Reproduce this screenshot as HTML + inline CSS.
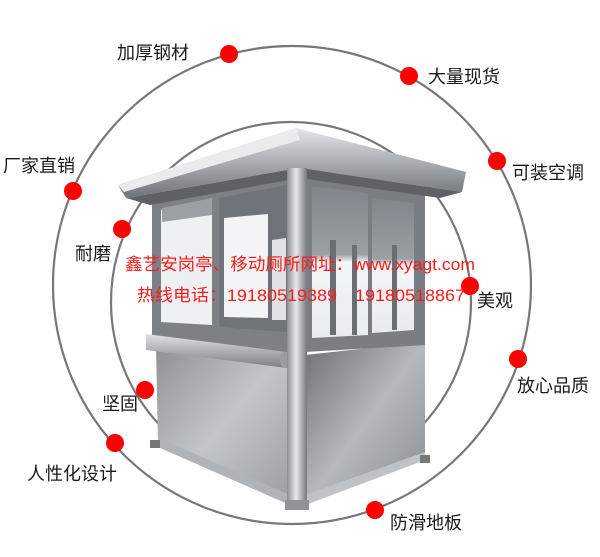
<!DOCTYPE html>
<html><head><meta charset="utf-8"><style>
html,body{margin:0;padding:0;background:#fff;}
svg{display:block;}
.l{font-family:"Liberation Sans","Noto Sans CJK SC",sans-serif;font-size:18px;fill:#1a1a1a;}
.r{font-family:"Liberation Sans","Noto Sans CJK SC",sans-serif;font-size:17px;fill:#ff1a1a;}
</style></head><body>
<svg width="600" height="557" viewBox="0 0 600 557" xmlns="http://www.w3.org/2000/svg">
<defs>
<linearGradient id="roof" x1="0" y1="0" x2="0" y2="1"><stop offset="0" stop-color="#e4e6e8"/><stop offset="0.5" stop-color="#a9adb1"/><stop offset="1" stop-color="#6f7377"/></linearGradient>
<linearGradient id="lp" x1="0" y1="0" x2="1" y2="1"><stop offset="0" stop-color="#8d9195"/><stop offset="0.5" stop-color="#c3c6c9"/><stop offset="1" stop-color="#9a9ea2"/></linearGradient>
<linearGradient id="rp" x1="0" y1="0" x2="1" y2="1"><stop offset="0" stop-color="#6d7175"/><stop offset="0.5" stop-color="#b5b9bc"/><stop offset="1" stop-color="#888c90"/></linearGradient>
<linearGradient id="post" x1="0" y1="0" x2="1" y2="0"><stop offset="0" stop-color="#8a8e92"/><stop offset="0.45" stop-color="#e8eaec"/><stop offset="1" stop-color="#74787c"/></linearGradient>
<linearGradient id="ledge" x1="0" y1="0" x2="0" y2="1"><stop offset="0" stop-color="#e0e2e4"/><stop offset="1" stop-color="#7a7e82"/></linearGradient>
<linearGradient id="gl" x1="0" y1="0" x2="0" y2="1"><stop offset="0" stop-color="#7f858a"/><stop offset="0.45" stop-color="#9aa0a4"/><stop offset="0.5" stop-color="#f4f6f7"/><stop offset="1" stop-color="#e8ecee"/></linearGradient>
</defs>
<!-- circles -->
<circle cx="292" cy="285" r="239" fill="none" stroke="#777" stroke-width="2.2"/>
<circle cx="291" cy="302" r="180" fill="none" stroke="#777" stroke-width="2.2"/>

<!-- booth -->
<!-- left lower panel -->
<polygon points="156,345 290,368 290,505 158,447" fill="url(#lp)"/>
<polygon points="158,438 290,495 290,505 158,447" fill="#b0b4b7"/>
<!-- right lower panel -->
<polygon points="305,355 425,342 425,460 305,505" fill="url(#rp)"/>
<polygon points="305,495 425,452 425,460 305,505" fill="#c0c3c6"/>
<!-- left upper frame & glass -->
<polygon points="152,198 290,168 290,360 152,338" fill="#7d8186"/>
<polygon points="161,210 212,200 212,325 161,322" fill="#eef1f2"/>
<polygon points="162,208 212,198 212,215 162,222" fill="#9ba0a4"/>
<polygon points="219,198 287,185 287,332 219,327" fill="#6e747a"/>
<polygon points="224,218 268,214 268,318 224,317" fill="#f2f4f5"/>
<polygon points="272,240 286,238 286,320 272,320" fill="#dfe3e5"/>
<!-- right upper frame & glass -->
<polygon points="305,168 425,190 425,345 305,352" fill="#7a7e83"/>
<polygon points="312,186 368,193 368,335 312,338" fill="url(#gl)"/>
<polygon points="372,198 414,203 414,330 372,333" fill="url(#gl)"/>
<rect x="330" y="240" width="6" height="95" fill="#6a6f74"/>
<rect x="352" y="245" width="5" height="90" fill="#6a6f74"/>
<rect x="392" y="245" width="5" height="85" fill="#6a6f74"/>
<!-- ledge -->
<polygon points="146,334 287,352 287,368 146,350" fill="url(#ledge)"/>
<ellipse cx="285" cy="360" rx="5" ry="8" fill="#9a9ea2"/>
<!-- roof -->
<polygon points="118,185 296,128 466,172 462,192 300,168 126,198" fill="url(#roof)"/>
<polygon points="118,185 296,128 300,140 124,192" fill="#e9ebed"/>
<polygon points="126,198 300,168 462,192 440,198 300,178 150,205" fill="#5e6266"/>
<!-- post -->
<rect x="287" y="168" width="20" height="342" fill="url(#post)"/>
<rect x="285" y="500" width="24" height="10" fill="#8f9397"/>
<rect x="150" y="440" width="10" height="8" fill="#777"/>
<rect x="420" y="455" width="10" height="8" fill="#777"/>

<!-- red text -->
<text class="r" x="125" y="270" textLength="350" lengthAdjust="spacingAndGlyphs">鑫艺安岗亭、移动厕所网址：www.xyagt.com</text>
<text class="r" x="137" y="301" textLength="328" lengthAdjust="spacingAndGlyphs">热线电话：19180519389　19180518867</text>

<!-- dots -->
<g fill="#ff0000">
<circle cx="229" cy="54" r="9"/>
<circle cx="409" cy="76" r="9"/>
<circle cx="497" cy="161" r="9"/>
<circle cx="73" cy="191" r="9"/>
<circle cx="122" cy="229" r="9"/>
<circle cx="470" cy="286" r="9"/>
<circle cx="518" cy="359" r="9"/>
<circle cx="145" cy="390" r="9"/>
<circle cx="115" cy="443" r="9"/>
<circle cx="375" cy="510" r="9"/>
</g>
<!-- labels -->
<text class="l" x="117" y="59">加厚钢材</text>
<text class="l" x="428" y="83">大量现货</text>
<text class="l" x="512" y="179">可装空调</text>
<text class="l" x="3" y="172">厂家直销</text>
<text class="l" x="75" y="260">耐磨</text>
<text class="l" x="477" y="307">美观</text>
<text class="l" x="517" y="392">放心品质</text>
<text class="l" x="102" y="410">坚固</text>
<text class="l" x="27" y="480">人性化设计</text>
<text class="l" x="390" y="529">防滑地板</text>
</svg>
</body></html>
